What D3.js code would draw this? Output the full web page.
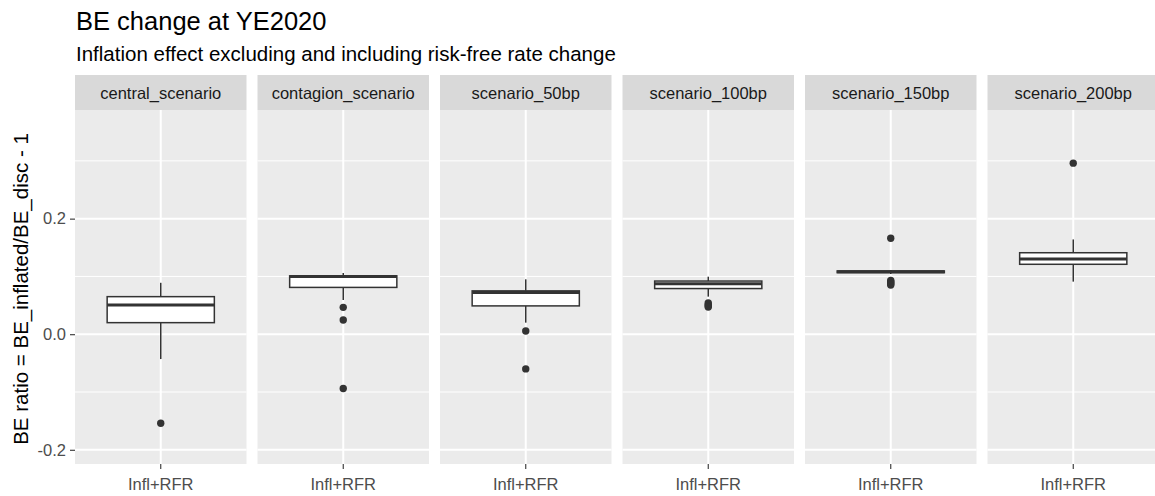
<!DOCTYPE html>
<html>
<head>
<meta charset="utf-8">
<script src="https://cdn.jsdelivr.net/npm/d3@7"></script>
<style>
  body { margin: 0; background: #fff; }
  svg { display: block; font-family: "Liberation Sans", Arial, sans-serif; }
</style>
</head>
<body>
<div id="chart"></div>
<script>
const width = 1155;
const height = 496;

// boxplot summaries, one entry per facet
const scenarios = ["central_scenario", "contagion_scenario", "scenario_50bp", "scenario_100bp", "scenario_150bp", "scenario_200bp"];
const lowerWhisker = [-0.043, 0.059, 0.020, 0.065, 0.104, 0.091];
const q1 = [0.020, 0.081, 0.049, 0.079, 0.1065, 0.121];
const median = [0.0505, 0.100, 0.072, 0.0875, 0.108, 0.130];
const q3 = [0.065, 0.101, 0.075, 0.092, 0.1095, 0.141];
const upperWhisker = [0.089, 0.106, 0.095, 0.0995, 0.111, 0.164];
const outliers = [
    [-0.154],
    [0.0465, 0.0246, -0.094],
    [0.0055, -0.060],
    [0.054, 0.051, 0.049, 0.047],
    [0.166, 0.093, 0.091, 0.089, 0.087, 0.085],
    [0.296]
];
const xCategory = "Infl+RFR";
const yTicks = [-0.2, 0.0, 0.2];
const yMinor = [-0.1, 0.1, 0.3];

const panelTop = 110;
const panelBottom = 464;
const stripTop = 75;

const svg = d3.select("#chart").append("svg")
    .attr("width", width)
    .attr("height", height);

// facets
const facetX = d3.scaleBand()
    .domain(scenarios)
    .range([75, 1159])
    .paddingInner(0.0603)
    .paddingOuter(0);

const y = d3.scaleLinear()
    .domain([-0.2246, 0.388])
    .range([panelBottom, panelTop]);

// inner discrete axis, expanded 0.6 each side like ggplot
const inner = d3.scaleLinear().domain([0.4, 1.6]).range([0, facetX.bandwidth()]);
const boxHalf = inner(1.375) - inner(1);

// titles
svg.append("text")
    .attr("x", 76).attr("y", 30)
    .style("font-size", "25.5px").style("fill", "#000")
    .text("BE change at YE2020");

svg.append("text")
    .attr("x", 76).attr("y", 61)
    .style("font-size", "20.5px").style("fill", "#000")
    .text("Inflation effect excluding and including risk-free rate change");

// y axis title
svg.append("text")
    .attr("transform", `translate(28,${(panelTop + panelBottom) / 2 + 2}) rotate(-90)`)
    .attr("text-anchor", "middle")
    .style("font-size", "20.5px").style("fill", "#000")
    .text("BE ratio = BE_inflated/BE_disc - 1");

// y axis (left of first panel only)
const yAxis = svg.append("g")
    .attr("transform", `translate(${facetX(scenarios[0])},0)`)
    .call(d3.axisLeft(y).tickValues(yTicks).tickFormat(d => d.toFixed(1)).tickSize(5).tickPadding(4));
yAxis.select(".domain").remove();
yAxis.selectAll(".tick line").attr("stroke", "#333333").attr("stroke-width", 1.1);
yAxis.selectAll(".tick text")
    .style("font-size", "16.5px").style("fill", "#4D4D4D")
    .style("font-family", "'Liberation Sans', Arial, sans-serif");

scenarios.forEach((s, i) => {
    const g = svg.append("g").attr("transform", `translate(${facetX(s)},0)`);
    const w = facetX.bandwidth();
    const cx = inner(1);

    // strip
    g.append("rect")
        .attr("x", 0).attr("y", stripTop)
        .attr("width", w).attr("height", panelTop - stripTop)
        .attr("fill", "#D9D9D9");
    g.append("text")
        .attr("x", w / 2).attr("y", (stripTop + panelTop) / 2 + 6)
        .attr("text-anchor", "middle")
        .style("font-size", "16.5px").style("fill", "#1A1A1A")
        .text(s);

    // panel background + grid
    g.append("rect")
        .attr("x", 0).attr("y", panelTop)
        .attr("width", w).attr("height", panelBottom - panelTop)
        .attr("fill", "#EBEBEB");

    g.selectAll(".minor").data(yMinor).enter().append("line")
        .attr("x1", 0).attr("x2", w)
        .attr("y1", d => y(d)).attr("y2", d => y(d))
        .attr("stroke", "#fff").attr("stroke-width", 1);

    g.selectAll(".major").data(yTicks).enter().append("line")
        .attr("x1", 0).attr("x2", w)
        .attr("y1", d => y(d)).attr("y2", d => y(d))
        .attr("stroke", "#fff").attr("stroke-width", 2);

    g.append("line")
        .attr("x1", cx).attr("x2", cx)
        .attr("y1", panelTop).attr("y2", panelBottom)
        .attr("stroke", "#fff").attr("stroke-width", 2);

    // whiskers
    g.append("line")
        .attr("x1", cx).attr("x2", cx)
        .attr("y1", y(upperWhisker[i])).attr("y2", y(q3[i]))
        .attr("stroke", "#333333").attr("stroke-width", 1.5);
    g.append("line")
        .attr("x1", cx).attr("x2", cx)
        .attr("y1", y(q1[i])).attr("y2", y(lowerWhisker[i]))
        .attr("stroke", "#333333").attr("stroke-width", 1.5);

    // box
    g.append("rect")
        .attr("x", cx - boxHalf).attr("y", y(q3[i]))
        .attr("width", boxHalf * 2).attr("height", y(q1[i]) - y(q3[i]))
        .attr("fill", "#fff").attr("stroke", "#333333").attr("stroke-width", 1.5);

    // median
    g.append("line")
        .attr("x1", cx - boxHalf).attr("x2", cx + boxHalf)
        .attr("y1", y(median[i])).attr("y2", y(median[i]))
        .attr("stroke", "#333333").attr("stroke-width", 3);

    // outliers
    g.selectAll(".out").data(outliers[i]).enter().append("circle")
        .attr("cx", cx).attr("cy", d => y(d))
        .attr("r", 3.7)
        .attr("fill", "#333333");

    // x tick + label
    g.append("line")
        .attr("x1", cx).attr("x2", cx)
        .attr("y1", panelBottom).attr("y2", panelBottom + 5)
        .attr("stroke", "#333333").attr("stroke-width", 1.1);
    g.append("text")
        .attr("x", cx).attr("y", 490)
        .attr("text-anchor", "middle")
        .style("font-size", "16.5px").style("fill", "#4D4D4D")
        .text(xCategory);
});
</script>
</body>
</html>
